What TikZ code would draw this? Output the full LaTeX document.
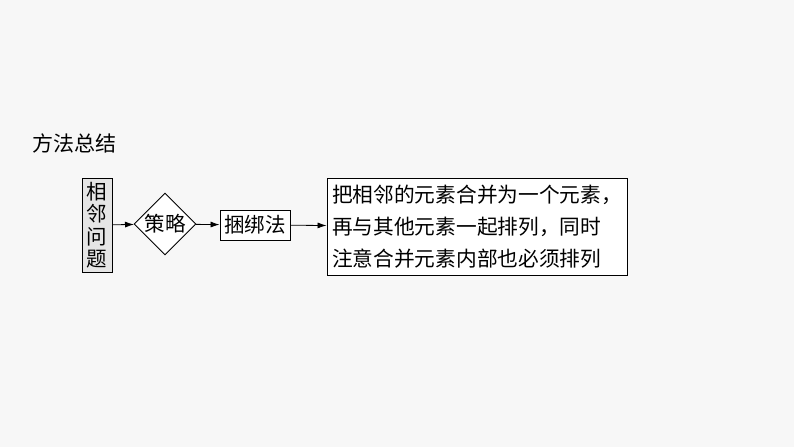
\documentclass[tikz,border=0pt]{standalone}
\usepackage{fontspec}
\setmainfont{Noto Sans CJK SC}
\usetikzlibrary{shapes.geometric,arrows.meta}
\begin{document}
\begin{tikzpicture}[x=1pt,y=-1pt,
  box/.style={draw,line width=0.9pt,inner sep=0pt,font=\fontsize{20.5}{24}\selectfont},
  arr/.style={-{Latex[length=9pt,width=6pt]},line width=0.8pt}]
\fill[white!97!black] (0,0) rectangle (794,447);
\useasboundingbox (0,0) rectangle (794,447);
\node[anchor=west,inner sep=0pt,font=\fontsize{21}{22}\selectfont] (title) at (32,143) {方法总结};
\node[box,fill=black!10,minimum width=30,minimum height=94,align=center,font=\fontsize{20.5}{22.5}\selectfont] (b1) at (97,225) {相\\邻\\问\\题};
\node[box,diamond,minimum width=62,minimum height=62,fill=white] (d) at (165,224) {策略};
\node[box,minimum width=70,minimum height=30,fill=white] (b2) at (255,225) {捆绑法};
\node[box,minimum width=300,minimum height=97,fill=white,align=left,font=\fontsize{20.7}{32}\selectfont] (b3) at (477,226.5) {把相邻的元素合并为一个元素，\\再与其他元素一起排列，同时\\注意合并元素内部也必须排列};
\draw[arr] (b1) -- (d);
\draw[arr] (d) -- (b2);
\draw[arr] (b2) -- (b3);
\end{tikzpicture}
\end{document}
